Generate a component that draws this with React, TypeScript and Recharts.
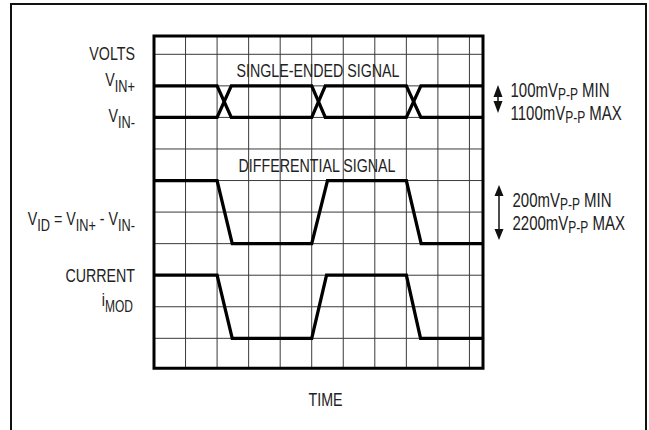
import React from "react";
import { LineChart, Line, XAxis, YAxis, CartesianGrid, ReferenceArea } from "recharts";

// time in grid divisions, level in grid divisions (bottom frame ~ 0)
const timeTicks = [1, 2, 3, 4, 5, 6, 7, 8, 9, 10];
const levelTicks = [1, 2, 3, 4, 5, 6, 7, 8, 9, 10];
const timeDomain: [number, number] = [0, 10.43];
const levelDomain: [number, number] = [0.05, 10.58];

const vinTime = [0, 2, 2.45, 5, 5.43, 8, 8.46, 10.43];
const vinPlus = [9, 9, 8, 8, 9, 9, 8, 8];
const vinMinus = [8, 8, 9, 9, 8, 8, 9, 9];

const diffTime = [0, 2, 2.48, 5, 5.5, 8, 8.47, 10.43];
const diffLevel = [6, 6, 4, 4, 6, 6, 4, 4];

const currTime = [0, 2, 2.48, 5, 5.47, 8, 8.45, 10.43];
const currLevel = [3, 3, 1, 1, 3, 3, 1, 1];

const toRows = (ts: number[], vs: number[]) => ts.map((t, i) => ({ t, v: vs[i] }));

const FONT = "'Liberation Sans', Arial, sans-serif";

// a label is a list of pieces; a piece that starts with "_" is a subscript
type Piece = string;

function Lbl({
  x,
  y,
  anchor = "start",
  size = 19,
  subSize = 17,
  subDy = 6,
  parts,
}: {
  x: number;
  y: number;
  anchor?: "start" | "middle" | "end";
  size?: number;
  subSize?: number;
  subDy?: number;
  parts: Piece[];
}) {
  let shift = 0;
  return (
    <g transform={`translate(${x},${y}) scale(0.75,1)`}>
      <text x={0} y={0} textAnchor={anchor} fontFamily={FONT} fontSize={size} fill="#222">
        {parts.map((p, i) => {
          const sub = p.startsWith("_");
          const target = sub ? subDy : 0;
          const dy = target - shift;
          shift = target;
          return (
            <tspan key={i} dy={dy} fontSize={sub ? subSize : size}>
              {sub ? p.slice(1) : p}
            </tspan>
          );
        })}
      </text>
    </g>
  );
}

function Arrow({ x, top, bottom, head }: { x: number; top: number; bottom: number; head: number }) {
  return (
    <g fill="#111" stroke="#111">
      <path d={`M${x},${top} L${x - 4.5},${top + head} L${x + 4.5},${top + head} Z`} stroke="none" />
      <path d={`M${x},${bottom} L${x - 4.5},${bottom - head} L${x + 4.5},${bottom - head} Z`} stroke="none" />
      <line x1={x} y1={top + head} x2={x} y2={bottom - head} strokeWidth={1.5} />
    </g>
  );
}

export default function App() {
  const lineProps = {
    type: "linear" as const,
    dataKey: "v",
    stroke: "#000",
    strokeWidth: 3.3,
    dot: false,
    activeDot: false,
    isAnimationActive: false,
  };

  return (
    <div style={{ position: "absolute", left: 0, top: 0, width: 649, height: 430, background: "#fff" }}>
      <LineChart width={649} height={430} margin={{ top: 36, right: 166, bottom: 61.7, left: 154 }}>
        <CartesianGrid stroke="#3a3a3a" strokeWidth={1} />
        <XAxis
          type="number"
          dataKey="t"
          domain={timeDomain}
          ticks={timeTicks}
          allowDataOverflow
          hide
        />
        <YAxis type="number" domain={levelDomain} ticks={levelTicks} allowDataOverflow hide />
        <ReferenceArea
          x1={timeDomain[0]}
          x2={timeDomain[1]}
          y1={levelDomain[0]}
          y2={levelDomain[1]}
          fill="none"
          fillOpacity={0}
          stroke="#000"
          strokeWidth={3}
        />
        <Line {...lineProps} data={toRows(vinTime, vinPlus)} />
        <Line {...lineProps} data={toRows(vinTime, vinMinus)} />
        <Line {...lineProps} data={toRows(diffTime, diffLevel)} />
        <Line {...lineProps} data={toRows(currTime, currLevel)} />
      </LineChart>

      <svg
        width={649}
        height={430}
        style={{ position: "absolute", left: 0, top: 0, pointerEvents: "none" }}
      >
        <rect x={11} y={4} width={635} height={450} fill="none" stroke="#111" strokeWidth={2} />

        <Lbl x={135} y={59.5} anchor="end" parts={["VOLTS"]} />
        <Lbl x={135} y={85.5} anchor="end" parts={["V", "_IN+"]} />
        <Lbl x={135} y={121.5} anchor="end" parts={["V", "_IN-"]} />
        <Lbl
          x={135}
          y={225}
          anchor="end"
          parts={["V", "_ID", " = V", "_IN+", " - V", "_IN-"]}
        />
        <Lbl x={135} y={281.5} anchor="end" parts={["CURRENT"]} />
        <Lbl x={133} y={305.5} anchor="end" subSize={16} parts={["i", "_MOD"]} />

        <Lbl x={318} y={76.5} anchor="middle" parts={["SINGLE-ENDED SIGNAL"]} />
        <Lbl x={317} y={171.5} anchor="middle" parts={["DIFFERENTIAL SIGNAL"]} />
        <Lbl x={325.5} y={406} anchor="middle" parts={["TIME"]} />

        <Arrow x={498} top={85} bottom={113} head={12} />
        <Lbl x={510.5} y={96.5} size={20} subSize={16} subDy={3} parts={["100mV", "_P-P", " MIN"]} />
        <Lbl x={510.5} y={120} size={20} subSize={16} subDy={3} parts={["1100mV", "_P-P", " MAX"]} />

        <Arrow x={499} top={185} bottom={240} head={11} />
        <Lbl x={512.5} y={206.5} size={20} subSize={16} subDy={3} parts={["200mV", "_P-P", " MIN"]} />
        <Lbl x={512.5} y={230} size={20} subSize={16} subDy={3} parts={["2200mV", "_P-P", " MAX"]} />
      </svg>
    </div>
  );
}
